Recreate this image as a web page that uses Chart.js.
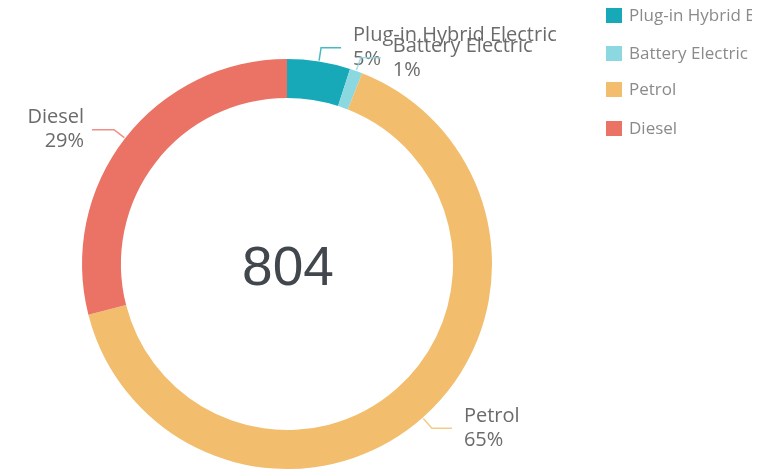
<!DOCTYPE html>
<html>
<head>
<meta charset="utf-8">
<script src="https://cdn.jsdelivr.net/npm/chart.js@4/dist/chart.umd.min.js"></script>
<style>
  html, body { margin: 0; padding: 0; background: #fff; }
  #wrap { width: 761px; height: 476px; }
</style>
</head>
<body>
<div id="wrap"><canvas id="fuelChart" width="761" height="476"></canvas></div>
<script>
// fuel type breakdown of the fleet
const categories = ['Plug-in Hybrid Electric', 'Battery Electric', 'Petrol', 'Diesel'];
const counts = [40, 8, 523, 233];
const colors = ['#17A9B7', '#8CD8E0', '#F2BD6C', '#EB7366'];

const total = counts.reduce((a, b) => a + b, 0);

// number in the hole of the ring
const centerTotal = {
  id: 'centerTotal',
  afterDraw(chart) {
    const arc = chart.getDatasetMeta(0).data[0];
    const ctx = chart.ctx;
    ctx.save();
    ctx.font = '55px "Liberation Sans", Arial, sans-serif';
    ctx.fillStyle = '#41474c';
    ctx.textAlign = 'center';
    ctx.textBaseline = 'middle';
    ctx.fillText(String(total), arc.x + 1, arc.y + 6);
    ctx.restore();
  }
};

// callout lines with name + percent next to each slice
const sliceCallouts = {
  id: 'sliceCallouts',
  afterDraw(chart) {
    const ctx = chart.ctx;
    const meta = chart.getDatasetMeta(0);
    const data = chart.data.datasets[0].data;
    const sum = data.reduce((a, b) => a + b, 0);
    ctx.save();
    meta.data.forEach((arc, i) => {
      const mid = (arc.startAngle + arc.endAngle) / 2;
      const cos = Math.cos(mid), sin = Math.sin(mid);
      const r0 = arc.outerRadius + 1;
      const r1 = arc.outerRadius + 14;
      const x0 = arc.x + cos * r0, y0 = arc.y + sin * r0;
      const x1 = arc.x + cos * r1, y1 = arc.y + sin * r1;
      const right = cos >= 0;
      const x2 = x1 + (right ? 20 : -22);

      ctx.strokeStyle = colors[i];
      ctx.globalAlpha = 0.8;
      ctx.lineWidth = 1.5;
      ctx.beginPath();
      ctx.moveTo(x0, y0);
      ctx.lineTo(x1, y1);
      ctx.lineTo(x2, y1);
      ctx.stroke();
      ctx.globalAlpha = 1;

      const pct = Math.round(data[i] / sum * 100) + '%';
      ctx.font = '20px "Open Sans", sans-serif';
      ctx.fillStyle = '#6b6b6b';
      ctx.textBaseline = 'middle';
      ctx.textAlign = right ? 'left' : 'right';
      const tx = x2 + (right ? 12 : -8);
      ctx.fillText(chart.data.labels[i], tx, y1 - 12);
      ctx.fillText(pct, tx, y1 + 12);
    });
    ctx.restore();
  }
};

// legend stacked at the right edge, long names cut off
const sideLegend = {
  id: 'sideLegend',
  afterDraw(chart) {
    const ctx = chart.ctx;
    const rows = [16, 54, 90, 129];
    ctx.save();
    ctx.beginPath();
    ctx.rect(600, 0, 152, 160);
    ctx.clip();
    ctx.font = '17px "Open Sans", sans-serif';
    ctx.textBaseline = 'middle';
    ctx.textAlign = 'left';
    chart.data.labels.forEach((lab, i) => {
      ctx.fillStyle = colors[i];
      ctx.fillRect(606, rows[i] - 8, 16, 15);
      ctx.fillStyle = '#8a8a8a';
      ctx.fillText(lab, 629, rows[i]);
    });
    ctx.restore();
  }
};

new Chart(document.getElementById('fuelChart'), {
  type: 'doughnut',
  data: {
    labels: categories,
    datasets: [{
      data: counts,
      backgroundColor: colors,
      borderWidth: 0,
      hoverOffset: 0
    }]
  },
  options: {
    responsive: false,
    animation: false,
    devicePixelRatio: 1,
    cutout: '81%',
    layout: { padding: { left: 82, right: 269, top: 59, bottom: 7 } },
    plugins: {
      legend: { display: false },
      tooltip: { enabled: false }
    }
  },
  plugins: [centerTotal, sliceCallouts, sideLegend]
});
</script>
</body>
</html>
